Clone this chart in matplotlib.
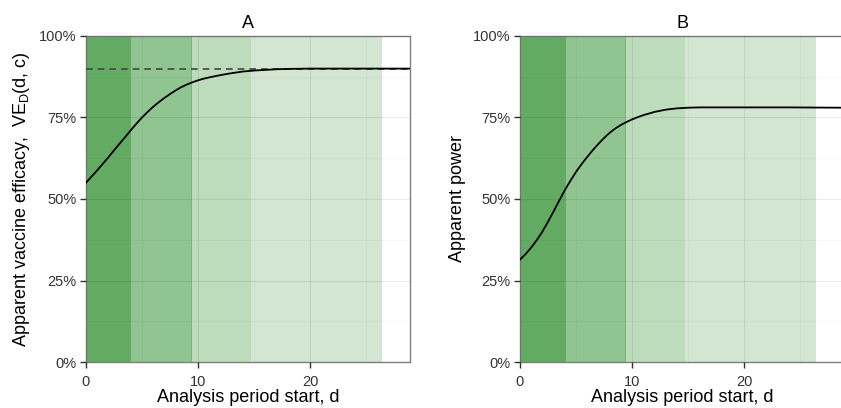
import numpy as np
import matplotlib.pyplot as plt
from matplotlib.ticker import FuncFormatter, MultipleLocator

plt.rcParams['font.family'] = ['Liberation Sans', 'DejaVu Sans']

# =============================
# DATA
# =============================

# shaded analysis windows: each band runs from 0 to its end (days)
band_ends = [26.4, 14.7, 9.4, 4.0]
band_colors = ["#d2e6d2", "#bcdcbc", "#90c490", "#63ab63"]

# panel A: apparent vaccine efficacy vs analysis start
d_a = [0, 0.5, 1, 1.5, 2, 2.5, 3, 3.5, 4, 4.5, 5, 5.5, 6, 6.5, 7, 7.5, 8, 8.5,
       9, 9.5, 10, 10.5, 11, 12, 13, 14, 15, 16, 17, 18, 20, 24, 28.93]
ve_a = [0.550, 0.569, 0.588, 0.608, 0.628, 0.649, 0.670, 0.690, 0.711, 0.731,
        0.750, 0.767, 0.783, 0.797, 0.810, 0.822, 0.833, 0.843, 0.851, 0.858,
        0.864, 0.869, 0.873, 0.880, 0.886, 0.891, 0.894, 0.896, 0.898, 0.899,
        0.900, 0.900, 0.900]
ve_true = 0.90

# panel B: apparent power vs analysis start
d_b = [0, 0.5, 1, 1.5, 2, 2.5, 3, 3.5, 4, 4.5, 5, 5.5, 6, 6.5, 7, 7.5, 8, 8.5,
       9, 9.5, 10, 10.5, 11, 12, 13, 14, 15, 16, 20, 24, 28.93]
pow_b = [0.314, 0.331, 0.351, 0.374, 0.400, 0.430, 0.462, 0.495, 0.527, 0.556,
         0.583, 0.607, 0.629, 0.650, 0.669, 0.687, 0.703, 0.716, 0.727, 0.736,
         0.744, 0.751, 0.757, 0.767, 0.774, 0.778, 0.780, 0.781, 0.781, 0.781,
         0.780]

X_MAX = 28.93

# =============================
# FIGURE
# =============================

fig = plt.figure(figsize=(8.41, 4.08), dpi=100)
ax_a = fig.add_axes([86 / 841, 46 / 408, 324 / 841, 326 / 408])
ax_b = fig.add_axes([520 / 841, 46 / 408, 324 / 841, 326 / 408])

pct = FuncFormatter(lambda v, _: f"{v * 100:.0f}%")


def style_panel(ax, title, ylabel, edge_bands):
    for end, col in zip(band_ends, band_colors):
        ax.axvspan(0, end, color=col, lw=0, zorder=0)
    for end in edge_bands:
        ax.axvline(end, color="#4a9a4a", lw=0.7, alpha=0.6, zorder=1)

    ax.set_xlim(0, X_MAX)
    ax.set_ylim(0, 1)
    ax.xaxis.set_major_locator(MultipleLocator(10))
    ax.xaxis.set_minor_locator(MultipleLocator(5))
    ax.yaxis.set_major_locator(MultipleLocator(0.25))
    ax.yaxis.set_minor_locator(MultipleLocator(0.125))
    ax.yaxis.set_major_formatter(pct)

    ax.grid(which="major", color="black", alpha=0.08, lw=0.8, zorder=2)
    ax.grid(which="minor", color="black", alpha=0.03, lw=0.6, zorder=2)
    ax.set_axisbelow(False)

    for s in ax.spines.values():
        s.set_color("#7f7f7f")
        s.set_linewidth(1.0)
    ax.tick_params(which="major", length=4, width=1, color="#333333",
                   labelsize=10.5, labelcolor="#333333", pad=3)
    ax.tick_params(axis="x", which="major", pad=5)
    ax.tick_params(which="minor", length=0)

    ax.set_title(title, fontsize=13, pad=6)
    ax.set_xlabel("Analysis period start, d", fontsize=13, labelpad=0)
    ax.set_ylabel(ylabel, fontsize=13, labelpad=5)


style_panel(ax_a, "A", r"Apparent vaccine efficacy,  VE$_\mathregular{D}$(d, c)", [9.4])
ax_a.axhline(ve_true, color="#444444", lw=1.2, ls=(0, (4, 3)), zorder=3)
ax_a.plot(d_a, ve_a, color="black", lw=1.3, zorder=4)

style_panel(ax_b, "B", "Apparent power", [4.0, 9.4])
ax_b.plot(d_b, pow_b, color="black", lw=1.3, zorder=4)

fig.savefig("out.png", dpi=100)
